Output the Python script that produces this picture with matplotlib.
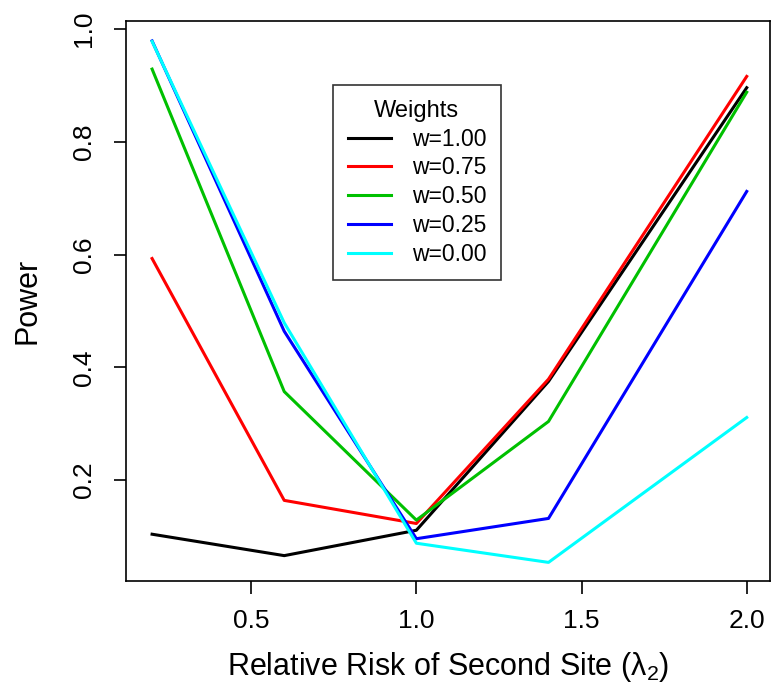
import matplotlib
matplotlib.use("Agg")
import matplotlib.pyplot as plt

plt.rcParams['font.family'] = ['Liberation Sans', 'DejaVu Sans']
plt.rcParams['mathtext.fontset'] = 'custom'
plt.rcParams['mathtext.rm'] = 'Liberation Sans'

# relative risk of second site
lam2 = [0.2, 0.6, 1.0, 1.4, 2.0]

w100 = [0.104, 0.066, 0.111, 0.375, 0.896]
w075 = [0.593, 0.164, 0.123, 0.379, 0.916]
w050 = [0.929, 0.357, 0.129, 0.304, 0.888]
w025 = [0.979, 0.464, 0.096, 0.132, 0.712]
w000 = [0.978, 0.479, 0.088, 0.054, 0.311]

labels = ['w=1.00', 'w=0.75', 'w=0.50', 'w=0.25', 'w=0.00']
colors = ['black', 'red', '#00c000', 'blue', 'cyan']
series = [w100, w075, w050, w025, w000]

fig = plt.figure(figsize=(7.72, 6.92), dpi=100)
ax = fig.add_axes([0.1632, 0.1604, 0.834, 0.809])

for ys, lab, c in zip(series, labels, colors):
    ax.plot(lam2, ys, color=c, lw=2.2, label=lab)

ax.set_xlim(0.121, 2.07)
ax.set_ylim(0.021, 1.014)
ax.set_xticks([0.5, 1.0, 1.5, 2.0])
ax.set_xticklabels(['0.5', '1.0', '1.5', '2.0'])
ax.set_yticks([0.2, 0.4, 0.6, 0.8, 1.0])
ax.set_yticklabels(['0.2', '0.4', '0.6', '0.8', '1.0'], rotation=90, va='center')
ax.tick_params(direction='out', length=9, width=1.2, labelsize=19)
ax.tick_params(axis='x', pad=11.5)
ax.tick_params(axis='y', pad=12.5)
for s in ax.spines.values():
    s.set_linewidth(1.2)

ax.set_xlabel('Relative Risk of Second Site (λ$_2$)', fontsize=22, labelpad=12)
ax.set_ylabel('Power', fontsize=22, labelpad=21)

leg = ax.legend(title='Weights', loc='upper left', bbox_to_anchor=(0.321, 0.886),
                fontsize=16.5, title_fontsize=17, frameon=True, fancybox=False,
                edgecolor='black', handlelength=1.9, handletextpad=0.9,
                borderpad=0.65, labelspacing=0.25, borderaxespad=0)
leg.get_frame().set_linewidth(1.2)

fig.savefig('out.png', dpi=100)
